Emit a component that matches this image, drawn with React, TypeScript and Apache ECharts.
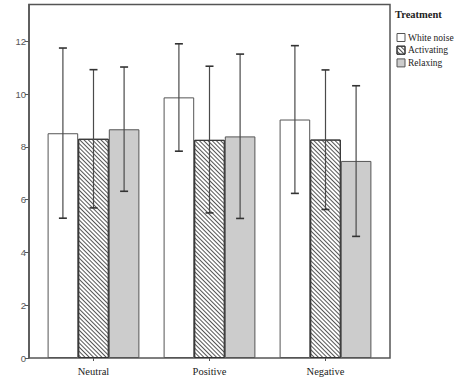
import React, { useEffect, useRef } from 'react';
import * as echarts from 'echarts';

const categories = ['Neutral', 'Positive', 'Negative'];
const seriesNames = ['White noise', 'Activating', 'Relaxing'];
const whiteNoise = [8.52, 9.88, 9.04];
const activating = [8.31, 8.27, 8.28];
const relaxing = [8.67, 8.4, 7.47];
const whiteNoiseLow = [5.3, 7.84, 6.24];
const whiteNoiseHigh = [11.75, 11.91, 11.84];
const activatingLow = [5.69, 5.5, 5.63];
const activatingHigh = [10.93, 11.06, 10.92];
const relaxingLow = [6.32, 5.29, 4.61];
const relaxingHigh = [11.03, 11.52, 10.32];
const yTicks = [0, 2, 4, 6, 8, 10, 12];

const BAR_W = 30.6;
const SANS = "'Liberation Sans', Arial, sans-serif";
const SERIF = "'Liberation Serif', 'Times New Roman', serif";
const EDGE = '#555555';

export default function App() {
  const ref = useRef<HTMLDivElement>(null);
  useEffect(() => {
    if (!ref.current) return;
    const chart = echarts.init(ref.current, null, { renderer: 'svg' });
    const lows = [whiteNoiseLow, activatingLow, relaxingLow];
    const highs = [whiteNoiseHigh, activatingHigh, relaxingHigh];
    const errSeries = [0, 1, 2].map((k) => ({
      type: 'custom',
      name: 'err' + k,
      coordinateSystem: 'cartesian2d',
      z: 5,
      silent: true,
      encode: { x: 0, y: [1, 2] },
      data: categories.map((_, i) => [i, lows[k][i], highs[k][i]]),
      renderItem: (params: any, api: any) => {
        const idx = api.value(0);
        const top = api.coord([idx, api.value(2)]);
        const bot = api.coord([idx, api.value(1)]);
        const x = top[0] + (k - 1) * BAR_W;
        const cap = 4;
        const style = { stroke: '#4a4a4a', lineWidth: 1.2 };
        return {
          type: 'group',
          children: [
            { type: 'line', shape: { x1: x, y1: top[1], x2: x, y2: bot[1] }, style },
            { type: 'line', shape: { x1: x - cap, y1: top[1], x2: x + cap, y2: top[1] }, style: { stroke: '#333', lineWidth: 1.6 } },
            { type: 'line', shape: { x1: x - cap, y1: bot[1], x2: x + cap, y2: bot[1] }, style: { stroke: '#333', lineWidth: 1.6 } },
          ],
        };
      },
    }));
    const option: any = {
      animation: false,
      backgroundColor: '#ffffff',
      grid: { left: 35.5, right: 82.5, top: 4.5, bottom: 28, containLabel: false },
      graphic: [
        {
          type: 'rect',
          z: 0,
          silent: true,
          shape: { x: 29, y: 4.5, width: 361, height: 353.5 },
          style: { fill: 'none', stroke: EDGE, lineWidth: 1.5 },
        },
        {
          type: 'text',
          left: 395,
          top: 9,
          style: { text: 'Treatment', fill: '#222', font: `bold 10.5px ${SERIF}` },
        },
      ],
      legend: {
        orient: 'vertical',
        left: 391.5,
        top: 27.5,
        itemWidth: 8,
        itemHeight: 8,
        itemGap: 2.7,
        icon: 'rect',
        data: seriesNames,
        itemStyle: { borderWidth: 1 },
        textStyle: { fontFamily: SERIF, fontSize: 9.5, color: '#222', lineHeight: 8, padding: [0, 0, 0, -2] },
      },
      xAxis: {
        type: 'category',
        data: categories,
        axisLine: { show: false },
        axisTick: { show: true, alignWithLabel: true, length: 3, lineStyle: { color: EDGE } },
        axisLabel: { fontFamily: SERIF, fontSize: 10.5, color: '#222', margin: 8 },
      },
      yAxis: {
        type: 'value',
        min: 0,
        max: 13.4,
        interval: 2,
        offset: 6.5,
        splitLine: { show: false },
        axisLine: { show: true, lineStyle: { color: EDGE, width: 1.5 } },
        axisTick: { show: true, length: 4, customValues: yTicks, lineStyle: { color: EDGE } },
        axisLabel: { fontFamily: SANS, fontSize: 9.5, color: '#555', margin: 3, customValues: yTicks },
      },
      series: [
        {
          type: 'bar',
          name: seriesNames[0],
          data: whiteNoise,
          barWidth: BAR_W,
          barGap: '0%',
          itemStyle: { color: '#ffffff', borderColor: EDGE, borderWidth: 1 },
        },
        {
          type: 'bar',
          name: seriesNames[1],
          data: activating,
          barWidth: BAR_W,
          barGap: '0%',
          itemStyle: {
            color: '#ffffff',
            borderColor: '#333',
            borderWidth: 1,
            decal: {
              symbol: 'rect',
              symbolSize: 1,
              dashArrayX: [1, 0],
              dashArrayY: [0.9, 1.6],
              rotation: Math.PI / 4,
              color: '#555555',
            },
          },
        },
        {
          type: 'bar',
          name: seriesNames[2],
          data: relaxing,
          barWidth: BAR_W,
          barGap: '0%',
          itemStyle: { color: '#cccccc', borderColor: EDGE, borderWidth: 1 },
        },
        ...errSeries,
      ],
    };
    chart.setOption(option);
    return () => chart.dispose();
  }, []);
  return <div ref={ref} style={{ position: 'fixed', left: 0, top: 0, width: 466, height: 386 }} />;
}
